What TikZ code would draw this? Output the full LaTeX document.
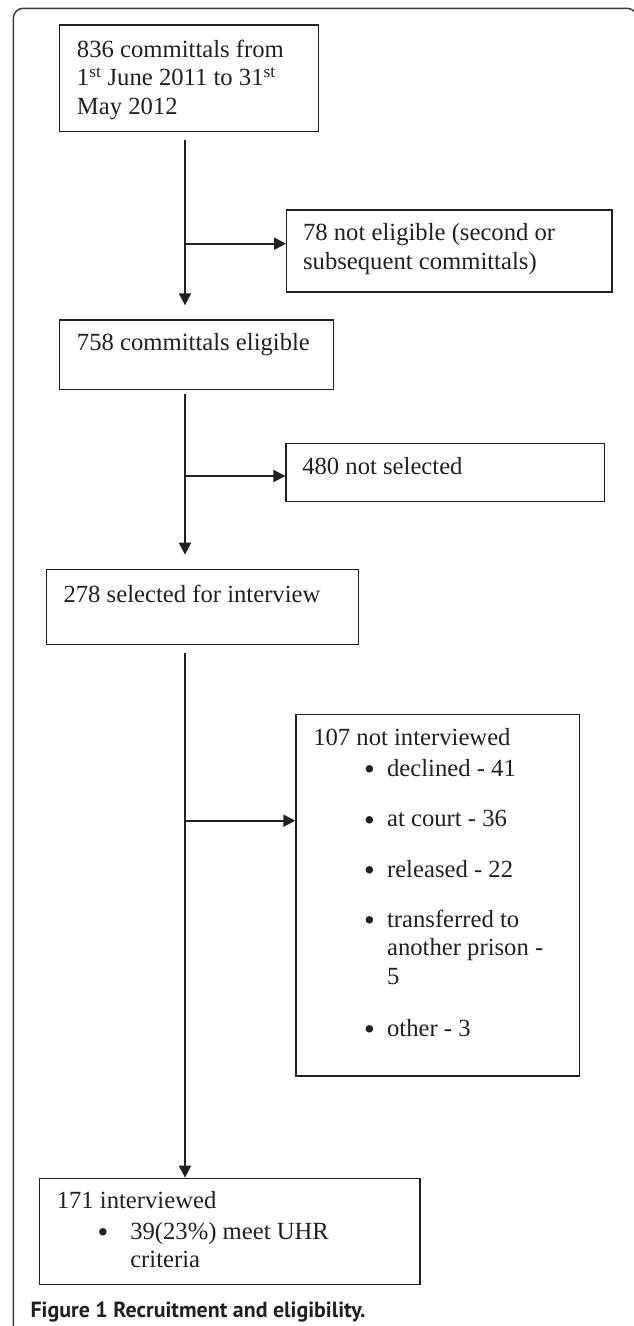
\documentclass[tikz,border=0pt]{standalone}
\usepackage{fontspec}
\usepackage{graphicx}
\setmainfont{Liberation Serif}
\newfontfamily\capfont{PT Sans}
\usetikzlibrary{arrows.meta,fit}
\definecolor{ink}{HTML}{231F20}
\definecolor{framec}{HTML}{3A3A3A}
\newcommand{\lines}[1]{\begin{tabular}[t]{@{}l@{}}#1\end{tabular}}
\newcommand{\bigbullet}{\raisebox{-2.5pt}{\scalebox{1.25}{\textbullet}}}
\begin{document}
\begin{tikzpicture}[x=0.75pt,y=-0.75pt,
  box/.style={draw=ink, line width=1pt, inner sep=0pt},
  txt/.style={anchor=base west, inner sep=0pt, text=ink,
    font=\fontsize{18.5}{21.5}\selectfont},
  bul/.style={anchor=base, inner sep=0pt, text=ink, font=\fontsize{18.5}{21.5}\selectfont},
  arr/.style={draw=ink, line width=1.5pt, -{Triangle[length=9pt,width=9pt]}}]
\useasboundingbox (0,0) rectangle (633,1326);
% outer frame
\draw[framec, line width=1.1pt, rounded corners=7.5pt] (13.3,1340) -- (13.3,8.3) -- (637,8.3) -- (637,1340);
% boxes
\node[box, fit={(59.3,25) (318.7,131.7)}] (b1) {};
\node[box, fit={(286.7,210) (612,292)}] (b2) {};
\node[box, fit={(59.3,320) (333.7,389.3)}] (b3) {};
\node[box, fit={(286,443.7) (604.7,501.3)}] (b4) {};
\node[box, fit={(46.7,569.3) (358.7,644.7)}] (b5) {};
\node[box, fit={(296,714.7) (579.3,1076)}] (b6) {};
\node[box, fit={(39.2,1178.3) (419.9,1284.3)}] (b7) {};
% texts
\node[txt] (t1) at (76.7,57.3) {\lines{836 committals from\\1\textsuperscript{st} June 2011 to 31\textsuperscript{st}\\May 2012}};
\node[txt] (t2) at (302.8,240.7) {\lines{78 not eligible (second or\\subsequent committals)}};
\node[txt] (t3) at (76.7,351) {758 committals eligible};
\node[txt] (t4) at (302,474.3) {480 not selected};
\node[txt] (t5) at (63.3,602) {278 selected for interview};
\node[txt] (t6) at (313,745) {107 not interviewed};
\node[bul] (u1) at (369.4,776) {\bigbullet};
\node[txt] (i1) at (386.8,776) {declined - 41};
\node[bul] (u2) at (369.4,826.7) {\bigbullet};
\node[txt] (i2) at (386.8,826.7) {at court - 36};
\node[bul] (u3) at (369.4,877.3) {\bigbullet};
\node[txt] (i3) at (386.8,877.3) {released - 22};
\node[bul] (u4) at (369.4,927.3) {\bigbullet};
\node[txt] (i4) at (386.8,927.3) {\lines{transferred to\\another prison -\\5}};
\node[bul] (u5) at (369.4,1036) {\bigbullet};
\node[txt] (i5) at (386.8,1036) {other - 3};
\node[txt] (t7) at (56.5,1208.3) {171 interviewed};
\node[bul] (u6) at (103,1239.3) {\bigbullet};
\node[txt] (i6) at (130,1239.3) {\lines{39(23\%) meet UHR\\criteria}};
% caption
\node[anchor=base west, inner sep=0pt, text=ink] (cap) at (30.3,1317.3)
  {\resizebox{251.25pt}{!}{\capfont\bfseries Figure 1 Recruitment and eligibility.}};
% connectors
\coordinate (v) at (185,0);
\coordinate (j1) at (185,243.7);
\coordinate (j2) at (185,476);
\coordinate (j3) at (185,820.7);
\draw[arr, shorten <=6pt, shorten >=10.5pt] (b1.south -| v) -- (b3.north -| v);
\draw[arr] (j1) -- (j1 -| b2.west);
\draw[arr, shorten <=3pt, shorten >=10.5pt] (b3.south -| v) -- (b5.north -| v);
\draw[arr] (j2) -- (j2 -| b4.west);
\draw[arr, shorten <=6pt] (b5.south -| v) -- (b7.north -| v);
\draw[arr] (j3) -- (j3 -| b6.west);
\end{tikzpicture}
\end{document}
